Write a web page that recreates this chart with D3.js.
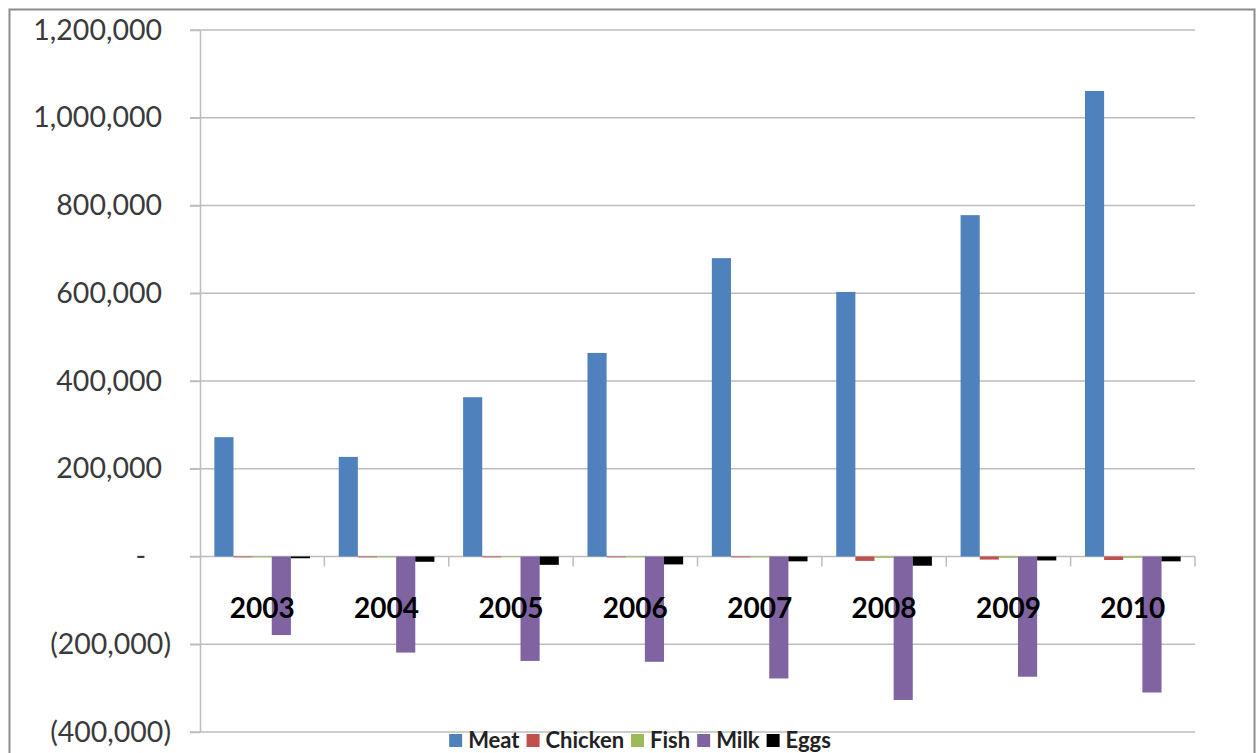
<!DOCTYPE html>
<html>
<head>
<meta charset="utf-8">
<script src="https://cdn.jsdelivr.net/npm/d3@7"></script>
<style>
  html, body { margin: 0; padding: 0; background: #fff; }
  svg { display: block; }
</style>
</head>
<body>
<svg id="chart" width="1258" height="753"></svg>
<script>
// ---- data ----
const years = ["2003", "2004", "2005", "2006", "2007", "2008", "2009", "2010"];
const seriesNames = ["Meat", "Chicken", "Fish", "Milk", "Eggs"];
const meat    = [272000, 227000, 363000, 464000, 680000, 603000, 778000, 1061000];
const chicken = [-2000, -2000, -2000, -2000, -2000, -10000, -7000, -8000];
const fish    = [-2000, -2000, -1500, -2000, -2000, -3000, -3000, -3000];
const milk    = [-179000, -219000, -238000, -240000, -278000, -327000, -274000, -310000];
const eggs    = [-4000, -12000, -19000, -18000, -11000, -21000, -9000, -11000];
const yTicks  = [-400000, -200000, 0, 200000, 400000, 600000, 800000, 1000000, 1200000];
const colors  = ["#4F81BD", "#C0504D", "#9BBB59", "#8064A2", "#000000"];

const seriesValues = [meat, chicken, fish, milk, eggs];

(function () {
// ---- layout ----
const svg = d3.select("#chart");
const pLeft = 200, pRight = 1195, pTop = 30, pBottom = 732;

// outer border
svg.append("rect")
  .attr("x", 9.5).attr("y", 9.5).attr("width", 1245).attr("height", 780)
  .attr("fill", "none").attr("stroke", "#8c8c8c").attr("stroke-width", 2);

const x0 = d3.scaleBand().domain(years).range([pLeft, pRight])
  .paddingInner(1.5 / 6.5).paddingOuter(0.75 / 6.5);
const x1 = d3.scaleBand().domain(seriesNames).range([0, x0.bandwidth()]);
const y = d3.scaleLinear().domain([-400000, 1200000]).range([pBottom, pTop]);
const color = d3.scaleOrdinal().domain(seriesNames).range(colors);

// gridlines
svg.append("g").selectAll("line").data(yTicks).join("line")
  .attr("x1", pLeft - 10).attr("x2", pRight)
  .attr("y1", d => y(d)).attr("y2", d => y(d))
  .attr("stroke", "#bdbdbd").attr("stroke-width", 1.5);

// y axis
const fmt = d3.format(",");
const yAxis = d3.axisLeft(y).tickValues(yTicks).tickSizeInner(10).tickSizeOuter(0)
  .tickPadding(28)
  .tickFormat(d => d === 0 ? "-" : d < 0 ? "(" + fmt(-d) + ")" : fmt(d));
const gy = svg.append("g").attr("transform", `translate(${pLeft},0)`).call(yAxis);
gy.select(".domain").attr("stroke", "#bdbdbd").attr("stroke-width", 1.5);
gy.selectAll(".tick line").attr("stroke", "#bdbdbd").attr("stroke-width", 1.5);
gy.selectAll(".tick text")
  .attr("font-family", "Lato, 'Open Sans', sans-serif")
  .attr("font-size", 28.5).attr("fill", "#3a3a3a")
  .attr("dx", d => d < 0 ? 9 : d === 0 ? -16 : 0);

// category tick marks on zero line
const catEdges = years.map(yr => x0(yr) - x0.step() * x0.paddingInner() / 2).concat([pRight]);
svg.append("g").selectAll("line").data(catEdges.slice(1)).join("line")
  .attr("x1", d => d).attr("x2", d => d)
  .attr("y1", y(0)).attr("y2", y(0) + 10)
  .attr("stroke", "#bdbdbd").attr("stroke-width", 1.5);

// bars
const rows = years.map((yr, i) => ({ year: yr, vals: seriesNames.map((s, j) => ({ s, v: seriesValues[j][i] })) }));
svg.append("g").selectAll("g").data(rows).join("g")
  .attr("transform", d => `translate(${x0(d.year)},0)`)
  .selectAll("rect").data(d => d.vals).join("rect")
  .attr("x", d => x1(d.s))
  .attr("width", x1.bandwidth())
  .attr("y", d => y(Math.max(0, d.v)))
  .attr("height", d => Math.abs(y(d.v) - y(0)))
  .attr("fill", d => color(d.s));

// category labels
svg.append("g").selectAll("text").data(years).join("text")
  .attr("x", d => x0(d) + x0.bandwidth() / 2)
  .attr("y", 618)
  .attr("text-anchor", "middle")
  .attr("font-family", "Lato, 'Open Sans', sans-serif")
  .attr("font-weight", "bold")
  .attr("font-size", 28)
  .attr("fill", "#000")
  .text(d => d);

// legend
const lg = svg.append("g");
let cx = 0;
seriesNames.forEach((s, i) => {
  const it = lg.append("g").attr("transform", `translate(${cx},0)`);
  it.append("rect").attr("x", 0).attr("y", -14).attr("width", 13).attr("height", 13).attr("fill", colors[i]);
  const t = it.append("text").attr("x", 19).attr("y", 0)
    .attr("font-family", "Lato, 'Open Sans', sans-serif")
    .attr("font-weight", "bold").attr("font-size", 22).attr("fill", "#222").text(s);
  cx += 19 + t.node().getComputedTextLength() + 7;
});
const lw = cx - 7;
lg.attr("transform", `translate(${640 - lw / 2},748)`);
})();
</script>
</body>
</html>
